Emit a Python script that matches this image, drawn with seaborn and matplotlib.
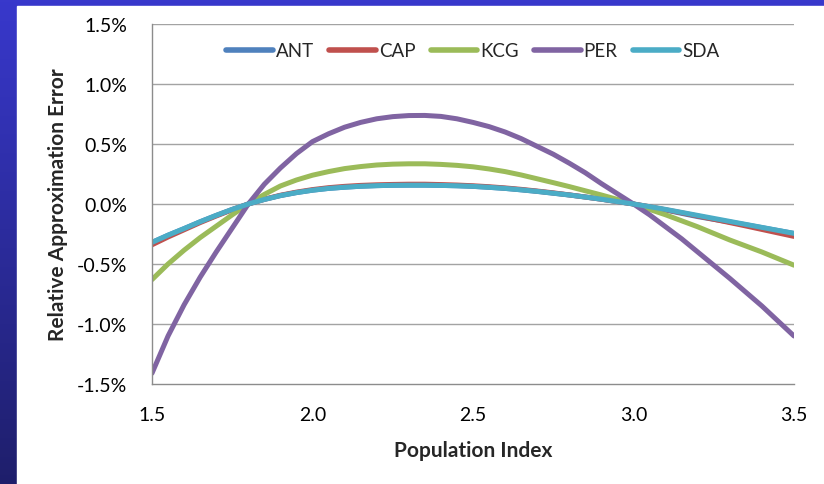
import numpy as np
import pandas as pd
import matplotlib
matplotlib.use("Agg")
import matplotlib.pyplot as plt
import seaborn as sns
from matplotlib.patches import Rectangle

# ---- data (relative approximation error, in %) ----
x_vals = [1.50, 1.55, 1.60, 1.65, 1.70, 1.75, 1.80, 1.85, 1.90, 1.95,
          2.00, 2.05, 2.10, 2.15, 2.20, 2.25, 2.30, 2.35, 2.40, 2.45,
          2.50, 2.55, 2.60, 2.65, 2.70, 2.75, 2.80, 2.85, 2.90, 2.95,
          3.00, 3.05, 3.10, 3.15, 3.20, 3.25, 3.30, 3.35, 3.40, 3.45, 3.50]
ant = [-0.32, -0.26, -0.205, -0.148, -0.095, -0.045, 0.0, 0.038, 0.07, 0.095,
       0.115, 0.13, 0.14, 0.148, 0.153, 0.156, 0.157, 0.157, 0.155, 0.152,
       0.147, 0.139, 0.13, 0.118, 0.105, 0.09, 0.075, 0.058, 0.04, 0.02,
       0.0, -0.024, -0.05, -0.078, -0.105, -0.128, -0.15, -0.173, -0.197, -0.221, -0.245]
cap = [-0.34, -0.275, -0.215, -0.155, -0.10, -0.048, 0.0, 0.04, 0.073, 0.099,
       0.12, 0.136, 0.147, 0.155, 0.16, 0.163, 0.165, 0.165, 0.162, 0.158,
       0.152, 0.144, 0.134, 0.122, 0.108, 0.093, 0.076, 0.058, 0.04, 0.02,
       0.0, -0.023, -0.048, -0.073, -0.10, -0.127, -0.155, -0.183, -0.212, -0.241, -0.27]
kcg = [-0.63, -0.50, -0.385, -0.28, -0.185, -0.09, 0.0, 0.08, 0.15, 0.20,
       0.24, 0.27, 0.295, 0.312, 0.325, 0.332, 0.335, 0.335, 0.33, 0.322,
       0.31, 0.292, 0.27, 0.242, 0.21, 0.178, 0.145, 0.11, 0.075, 0.038,
       0.0, -0.045, -0.09, -0.14, -0.19, -0.245, -0.30, -0.35, -0.40, -0.455, -0.51]
per = [-1.41, -1.10, -0.84, -0.61, -0.40, -0.20, 0.0, 0.165, 0.30, 0.42,
       0.52, 0.585, 0.64, 0.68, 0.71, 0.728, 0.737, 0.738, 0.73, 0.71,
       0.68, 0.645, 0.60, 0.545, 0.48, 0.415, 0.34, 0.26, 0.17, 0.085,
       0.0, -0.09, -0.19, -0.29, -0.40, -0.51, -0.62, -0.735, -0.85, -0.975, -1.10]
sda = [-0.32, -0.26, -0.205, -0.148, -0.095, -0.045, 0.0, 0.038, 0.07, 0.095,
       0.115, 0.13, 0.14, 0.148, 0.153, 0.156, 0.157, 0.157, 0.155, 0.152,
       0.147, 0.139, 0.13, 0.118, 0.105, 0.09, 0.075, 0.058, 0.04, 0.02,
       0.0, -0.022, -0.045, -0.07, -0.095, -0.12, -0.145, -0.17, -0.195, -0.22, -0.245]

series_names = ["ANT", "CAP", "KCG", "PER", "SDA"]
series_colors = ["#4F81BD", "#C0504D", "#9BBB59", "#8064A2", "#4BACC6"]
y_ticks = [-1.5, -1.0, -0.5, 0.0, 0.5, 1.0, 1.5]
y_tick_labels = ["-1.5%", "-1.0%", "-0.5%", "0.0%", "0.5%", "1.0%", "1.5%"]
x_ticks = [1.5, 2.0, 2.5, 3.0, 3.5]
x_tick_labels = ["1.5", "2.0", "2.5", "3.0", "3.5"]

frames = []
for name, vals in zip(series_names, [ant, cap, kcg, per, sda]):
    frames.append(pd.DataFrame({"x": x_vals, "y": vals, "series": name}))
df = pd.concat(frames, ignore_index=True)

sns.set_theme(style="white")
plt.rcParams["font.family"] = ["Lato", "DejaVu Sans"]

fig = plt.figure(figsize=(8.24, 4.85), dpi=100)

# background: blue gradient frame + white panel
bg = fig.add_axes([0, 0, 1, 1], zorder=-10)
grad = np.linspace(0, 1, 256).reshape(-1, 1)
top_c = np.array([0.22, 0.22, 0.80])
bot_c = np.array([0.12, 0.12, 0.42])
img = top_c[None, None, :] * (1 - grad[:, :, None]) + bot_c[None, None, :] * grad[:, :, None]
bg.imshow(img, aspect="auto", extent=[0, 1, 0, 1])
bg.add_patch(Rectangle((17 / 824, 0), 1, 1 - 7 / 485, color="white", transform=bg.transAxes))
bg.set_xlim(0, 1)
bg.set_ylim(0, 1)
bg.axis("off")

ax = fig.add_axes([152 / 824, 1 - 385 / 485, (794 - 152) / 824, (385 - 25) / 485])
ax.set_facecolor("none")

sns.lineplot(data=df, x="x", y="y", hue="series", hue_order=series_names,
             palette=series_colors, linewidth=3.6, ax=ax, legend=True, sort=True,
             solid_capstyle="round", solid_joinstyle="round")

ax.set_xlim(1.5, 3.5)
ax.set_ylim(-1.5, 1.5)
ax.set_yticks(y_ticks)
ax.set_yticklabels(y_tick_labels)
ax.set_xticks(x_ticks)
ax.set_xticklabels(x_tick_labels)

for yv in y_ticks[1:]:
    ax.axhline(yv, color="#a3a3a3", linewidth=1.0, zorder=0)

for s in ["top", "right"]:
    ax.spines[s].set_visible(False)
for s in ["left", "bottom"]:
    ax.spines[s].set_color("#8c8c8c")
    ax.spines[s].set_linewidth(1.0)

ax.tick_params(axis="both", which="major", direction="out", length=5, width=1,
               color="#8c8c8c", labelsize=14, labelcolor="#000000")
ax.tick_params(axis="y", pad=13)
ax.tick_params(axis="x", pad=11)

ax.set_xlabel("Population Index", fontsize=15, fontweight="bold", labelpad=12)
ax.set_ylabel("Relative Approximation Error", fontsize=15, fontweight="bold", labelpad=6)

handles, labels = ax.get_legend_handles_labels()
for h in handles:
    h.set_linewidth(4)
    h.set_solid_capstyle("round")
ax.legend(handles, labels, loc="upper center", bbox_to_anchor=(0.5, 0.97), ncol=5,
          frameon=False, fontsize=13.5, handlelength=2.5, handletextpad=0.15,
          columnspacing=0.8, borderaxespad=0)

fig.savefig("out.png", dpi=100)
